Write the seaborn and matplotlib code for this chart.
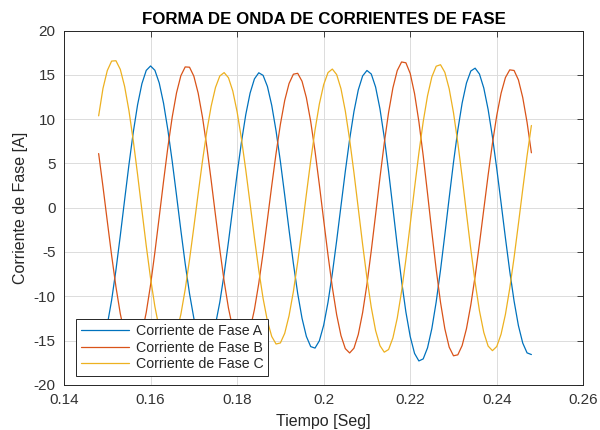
import numpy as np
import pandas as pd
import matplotlib
matplotlib.use("Agg")
import matplotlib.pyplot as plt
import seaborn as sns

# ---- data ----
t_start, t_end, n_samples = 0.148, 0.248, 101
tiempo = np.linspace(t_start, t_end, n_samples)

fase_a = [-16.17, -15.17, -13.22, -10.44, -7.03, -3.17, 0.87, 4.84, 8.51, 11.62,
          14.00, 15.50, 16.00, 15.51, 14.08, 11.79, 8.77, 5.24, 1.38, -2.56,
          -6.32, -9.69, -12.48, -14.48, -15.59, -15.74, -14.92, -13.19, -10.66, -7.48,
          -3.85, 0.00, 3.84, 7.40, 10.51, 12.94, 14.54, 15.23, 14.94, 13.69,
          11.55, 8.66, 5.21, 1.40, -2.52, -6.29, -9.69, -12.49, -14.53, -15.68,
          -15.85, -15.03, -13.27, -10.68, -7.44, -3.73, 0.20, 4.10, 7.72, 10.86,
          13.30, 14.87, 15.49, 15.09, 13.62, 11.18, 7.94, 4.11, -0.05, -4.27,
          -8.26, -11.78, -14.55, -16.45, -17.30, -17.07, -15.82, -13.64, -10.64, -7.04,
          -3.04, 1.10, 5.12, 8.77, 11.82, 14.08, 15.43, 15.75, 15.09, 13.51,
          11.09, 8.00, 4.39, 0.52, -3.42, -7.18, -10.54, -13.31, -15.28, -16.39,
          -16.58]

fase_b = [6.11, 2.38, -1.53, -5.39, -8.94, -11.96, -14.26, -15.71, -16.20, -15.69,
          -14.20, -11.82, -8.71, -5.02, -1.05, 2.98, 6.84, 10.23, 12.97, 14.90,
          15.89, 15.86, 14.85, 12.93, 10.21, 6.87, 3.10, -0.85, -4.72, -8.30,
          -11.34, -13.65, -15.11, -15.60, -15.12, -13.73, -11.49, -8.55, -5.10, -1.35,
          2.48, 6.14, 9.42, 12.11, 14.02, 15.07, 15.17, 14.27, 12.42, 9.74,
          6.39, 2.60, -1.40, -5.34, -8.98, -12.08, -14.44, -15.91, -16.40, -15.86,
          -14.31, -11.85, -8.64, -4.85, -0.78, 3.36, 7.29, 10.75, 13.53, 15.48,
          16.45, 16.36, 15.15, 12.88, 9.72, 5.87, 1.61, -2.77, -6.96, -10.69,
          -13.67, -15.74, -16.72, -16.61, -15.56, -13.65, -10.98, -7.73, -4.06, -0.19,
          3.67, 7.27, 10.42, 12.93, 14.69, 15.56, 15.49, 14.43, 12.44, 9.64,
          6.20]

fase_c = [10.37, 13.46, 15.48, 16.55, 16.59, 15.62, 13.70, 10.96, 7.58, 3.74,
          -0.30, -4.30, -7.98, -11.17, -13.63, -15.19, -15.80, -15.42, -14.14, -12.04,
          -9.23, -5.88, -2.19, 1.60, 5.29, 8.65, 11.46, 13.57, 14.87, 15.25,
          14.67, 13.17, 10.82, 7.79, 4.25, 0.44, -3.41, -7.04, -10.24, -12.79,
          -14.54, -15.39, -15.27, -14.18, -12.20, -9.47, -6.12, -2.39, 1.50, 5.29,
          8.76, 11.70, 13.89, 15.25, 15.65, 15.03, 13.43, 10.92, 7.69, 3.94,
          -0.09, -4.14, -7.94, -11.25, -13.87, -15.57, -16.31, -16.01, -14.70, -12.47,
          -9.45, -5.85, -1.87, 2.22, 6.17, 9.71, 12.64, 14.77, 15.97, 16.14,
          15.28, 13.43, 10.72, 7.32, 3.45, -0.65, -4.70, -8.43, -11.64, -14.08,
          -15.62, -16.14, -15.67, -14.27, -12.04, -9.10, -5.63, -1.83, 2.07, 5.85,
          9.28]

series_labels = ["Corriente de Fase A", "Corriente de Fase B", "Corriente de Fase C"]
x_ticks = [0.14, 0.16, 0.18, 0.20, 0.22, 0.24, 0.26]
x_tick_labels = ["0.14", "0.16", "0.18", "0.2", "0.22", "0.24", "0.26"]
y_ticks = [-20, -15, -10, -5, 0, 5, 10, 15, 20]

# ---- build long table ----
frames = []
for lab, vals in zip(series_labels, [fase_a, fase_b, fase_c]):
    frames.append(pd.DataFrame({"t": tiempo, "i": vals, "fase": lab}))
df = pd.concat(frames, ignore_index=True)

# ---- style ----
sns.set_style("white")
plt.rcParams["font.family"] = ["Liberation Sans", "DejaVu Sans"]
plt.rcParams["axes.unicode_minus"] = False
dark = "#262626"
colors = ["#0072BD", "#D95319", "#EDB120"]

fig = plt.figure(figsize=(6.0, 4.3), dpi=100)
ax = fig.add_axes([0.1067, 0.105, 0.8655, 0.824])

sns.lineplot(data=df, x="t", y="i", hue="fase", palette=colors,
             linewidth=0.9, estimator=None, sort=False, ax=ax)

ax.set_xlim(0.14, 0.26)
ax.set_ylim(-20, 20)
ax.set_xticks(x_ticks)
ax.set_xticklabels(x_tick_labels)
ax.set_yticks(y_ticks)
ax.grid(True, color="#dcdcdc", linewidth=0.7)
ax.set_axisbelow(True)
for s in ax.spines.values():
    s.set_color(dark)
    s.set_linewidth(0.7)
ax.tick_params(direction="in", length=4, width=0.6, colors=dark,
               top=True, right=True, labelsize=11, pad=6)
for lbl in ax.get_xticklabels() + ax.get_yticklabels():
    lbl.set_color("#333333")

ax.set_xlabel("Tiempo [Seg]", fontsize=11.5, color=dark, labelpad=5)
ax.set_ylabel("Corriente de Fase [A]", fontsize=11.5, color=dark, labelpad=4)
ax.set_title("FORMA DE ONDA DE CORRIENTES DE FASE", fontsize=12.2,
             fontweight="bold", color="black", pad=5)

handles, labels = ax.get_legend_handles_labels()
leg = ax.legend(handles, labels, loc="lower left", bbox_to_anchor=(0.024, 0.026),
                fontsize=10.2, frameon=True, fancybox=False, edgecolor=dark,
                framealpha=1.0, borderpad=0.3, labelspacing=0.2,
                handlelength=3.4, handletextpad=0.5, borderaxespad=0.0)
leg.get_frame().set_linewidth(0.7)
for txt in leg.get_texts():
    txt.set_color(dark)

fig.savefig("out.png", dpi=100)
